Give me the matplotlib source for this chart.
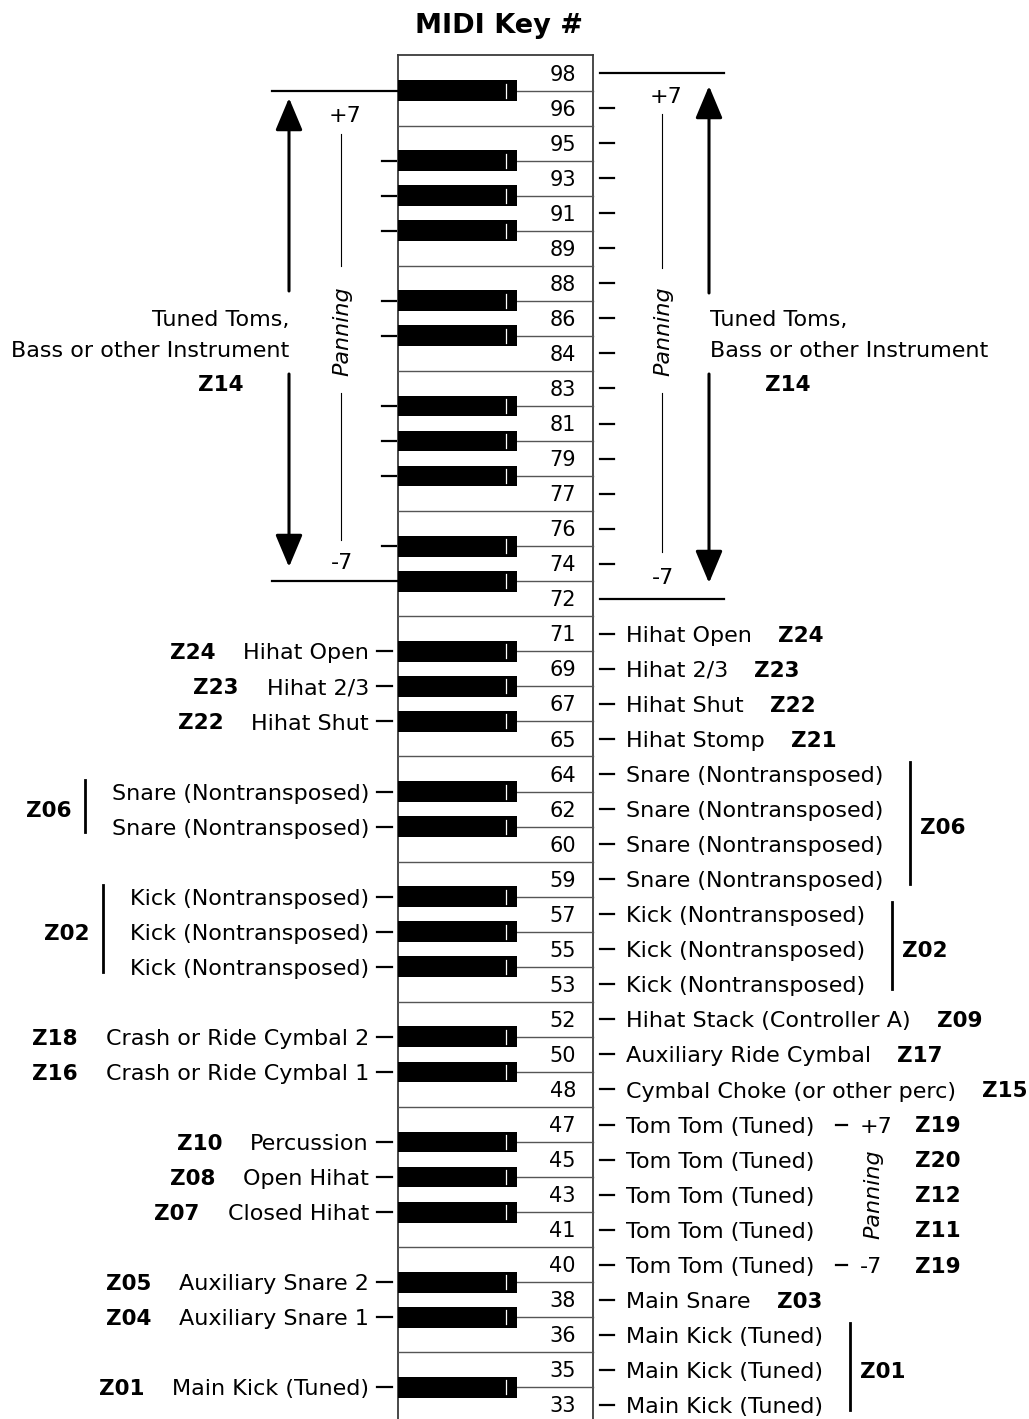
import matplotlib.pyplot as plt
import matplotlib
from matplotlib.patches import Rectangle

matplotlib.rcParams['font.family'] = 'DejaVu Sans'
matplotlib.rcParams['font.size'] = 16

# ---------------- data ----------------
top_note = 98
bottom_note = 33
black_classes = [1, 3, 6, 8, 10]

# labels on the left side (black keys)
left_notes = [70, 68, 66, 63, 61, 58, 56, 54, 51, 49, 46, 44, 42, 39, 37, 34]
left_names = ["Hihat Open", "Hihat 2/3", "Hihat Shut",
              "Snare (Nontransposed)", "Snare (Nontransposed)",
              "Kick (Nontransposed)", "Kick (Nontransposed)", "Kick (Nontransposed)",
              "Crash or Ride Cymbal 2", "Crash or Ride Cymbal 1",
              "Percussion", "Open Hihat", "Closed Hihat",
              "Auxiliary Snare 2", "Auxiliary Snare 1", "Main Kick (Tuned)"]
left_zones = ["Z24", "Z23", "Z22", "", "", "", "", "",
              "Z18", "Z16", "Z10", "Z08", "Z07", "Z05", "Z04", "Z01"]

# labels on the right side (white keys)
right_notes = [71, 69, 67, 65, 64, 62, 60, 59, 57, 55, 53, 52, 50, 48,
               47, 45, 43, 41, 40, 38, 36, 35, 33]
right_names = ["Hihat Open", "Hihat 2/3", "Hihat Shut", "Hihat Stomp",
               "Snare (Nontransposed)", "Snare (Nontransposed)",
               "Snare (Nontransposed)", "Snare (Nontransposed)",
               "Kick (Nontransposed)", "Kick (Nontransposed)", "Kick (Nontransposed)",
               "Hihat Stack (Controller A)", "Auxiliary Ride Cymbal",
               "Cymbal Choke (or other perc)",
               "Tom Tom (Tuned)", "Tom Tom (Tuned)", "Tom Tom (Tuned)",
               "Tom Tom (Tuned)", "Tom Tom (Tuned)",
               "Main Snare", "Main Kick (Tuned)", "Main Kick (Tuned)", "Main Kick (Tuned)"]
right_zones = ["Z24", "Z23", "Z22", "Z21", "", "", "", "", "", "", "",
               "Z09", "Z17", "Z15", "", "", "", "", "", "Z03", "", "", ""]

tom_notes = [47, 45, 43, 41, 40]
tom_zones = ["Z19", "Z20", "Z12", "Z11", "Z19"]
tom_pan = ["+7", "", "", "", "-7"]

left_groups = [("Z06", [63, 61]), ("Z02", [58, 56, 54])]
right_groups = [("Z06", [64, 62, 60, 59]), ("Z02", [57, 55, 53]), ("Z01", [36, 35, 33])]

tuned_top, tuned_bottom = 98, 72
tuned_lines = ["Tuned Toms,", "Bass or other Instrument"]
tuned_zone = "Z14"

# ---------------- figure ----------------
fig = plt.figure(figsize=(10.29, 14.19), dpi=100)
ax = fig.add_axes([0, 0, 1, 1])
ax.set_xlim(0, 1029)
ax.set_ylim(1419, 0)
ax.axis('off')

white_notes = [n for n in range(top_note, bottom_note - 1, -1) if n % 12 not in black_classes]
black_notes = [n for n in range(top_note - 1, bottom_note, -1) if n % 12 in black_classes]

Y0, PITCH = 73, 35.05
KX0, KX1, BX1 = 398, 593, 517


def wy(n):
    return Y0 + PITCH * white_notes.index(n)


def by(n):
    return Y0 + PITCH * (white_notes.index(n + 1) + 0.5)


def label(x, y, s, size=16, **kw):
    # vertically centre the capitals on y
    return ax.text(x, y + 0.729 * size * 100 / 72 / 2, s, va='baseline', fontsize=size, **kw)


# keyboard
frame = dict(color='#3a3a3a', lw=1.3)
ktop = Y0 - PITCH / 2
ax.plot([KX0, KX0], [ktop, 1430], **frame)
ax.plot([KX1, KX1], [ktop, 1430], **frame)
ax.plot([KX0, KX1], [ktop, ktop], **frame)
for i, n in enumerate(white_notes):
    yb = Y0 + PITCH * (i + 0.5)
    ax.plot([KX0, KX1], [yb, yb], color='#555555', lw=1.0)
    label(576, wy(n), str(n), size=15, ha='right')
for n in black_notes:
    y = by(n)
    ax.add_patch(Rectangle((KX0, y - 10.4), BX1 - KX0, 20.8, fc='black', ec='none', zorder=3))
    ax.plot([506, 506], [y - 7, y + 7], color='white', lw=0.9, zorder=4)

label(499, 23, "MIDI Key #", size=19.5, ha='center', fontweight='bold')

# tuned toms region (top)
tick = dict(color='black', lw=1.6)
for n in black_notes:
    if n == tuned_top - 1 or n == tuned_bottom + 1:
        ax.plot([272, KX0], [by(n), by(n)], **tick)
    elif tuned_bottom < n < tuned_top:
        ax.plot([382, 396], [by(n), by(n)], **tick)
for n in white_notes:
    if n == tuned_top or n == tuned_bottom:
        ax.plot([600, 724], [wy(n), wy(n)], **tick)
    elif tuned_bottom < n < tuned_top:
        ax.plot([600, 614], [wy(n), wy(n)], **tick)

arrow_style = dict(arrowstyle='-|>,head_length=1.0,head_width=0.42', lw=2.2,
                   color='black', mutation_scale=20, shrinkA=0, shrinkB=0)
for x, a, b, c, d in [(289, 291, 98, 374, 567), (709, 293, 86, 374, 583)]:
    ax.annotate('', xy=(x, b), xytext=(x, a), arrowprops=arrow_style)
    ax.annotate('', xy=(x, d), xytext=(x, c), arrowprops=arrow_style)

for x, ytop, l1, l2, ybot, ptop, pbot in [(341, 114, (134, 266), (393, 540), 561, 345, 342),
                                          (662, 95, (114, 268), (393, 552), 576, 666, 663)]:
    ax.plot([x, x], l1, color='black', lw=0.8)
    ax.plot([x, x], l2, color='black', lw=0.8)
    label(ptop, ytop, "+7", ha='center')
    label(pbot, ybot, "-7", ha='center')
    ax.text(x + 1, 331, "Panning", rotation=90, style='italic', fontsize=16,
            ha='center', va='center')

label(289, 318, tuned_lines[0], ha='right')
label(289, 349, tuned_lines[1], ha='right')
label(221, 383, tuned_zone, size=15.5, ha='center', fontweight='bold')
label(710, 318, tuned_lines[0], ha='left')
label(710, 349, tuned_lines[1], ha='left')
label(788, 383, tuned_zone, size=15.5, ha='center', fontweight='bold')

# lower labels
left_texts = {}
for n, name in zip(left_notes, left_names):
    ax.plot([377, 392], [by(n), by(n)], **tick)
    left_texts[n] = label(369, by(n), name, ha='right')

right_texts = {}
for n, name in zip(right_notes, right_names):
    ax.plot([600, 614], [wy(n), wy(n)], **tick)
    right_texts[n] = label(626, wy(n), name, ha='left')

fig.canvas.draw()
renderer = fig.canvas.get_renderer()
inv = ax.transData.inverted()


def xspan(t):
    bb = t.get_window_extent(renderer)
    (x0, _), (x1, _) = inv.transform([[bb.x0, bb.y0], [bb.x1, bb.y1]])
    return x0, x1


zone_kw = dict(size=15.5, fontweight='bold')
for n, z in zip(left_notes, left_zones):
    if z:
        label(xspan(left_texts[n])[0] - 28, by(n), z, ha='right', **zone_kw)
for n, z in zip(right_notes, right_zones):
    if z:
        label(xspan(right_texts[n])[1] + 26, wy(n), z, ha='left', **zone_kw)

for z, notes in left_groups:
    bx = min(xspan(left_texts[n])[0] for n in notes) - 27
    ax.plot([bx, bx], [by(notes[0]) - 12, by(notes[-1]) + 5], color='black', lw=2.0)
    label(bx - 13, (by(notes[0]) + by(notes[-1])) / 2, z, ha='right', **zone_kw)
for z, notes in right_groups:
    bx = max(xspan(right_texts[n])[1] for n in notes) + 27
    ax.plot([bx, bx], [wy(notes[0]) - 12, wy(notes[-1]) + 5], color='black', lw=2.0)
    label(bx + 10, (wy(notes[0]) + wy(notes[-1])) / 2, z, ha='left', **zone_kw)

for n, z, p in zip(tom_notes, tom_zones, tom_pan):
    y = wy(n)
    label(915, y, z, ha='left', **zone_kw)
    if p:
        ax.plot([836, 847], [y, y], **tick)
        label(860, y, p, ha='left')
ax.text(873, (wy(45) + wy(41)) / 2, "Panning", rotation=90, style='italic', fontsize=16,
        ha='center', va='center')

plt.savefig('out.png', dpi=100)
